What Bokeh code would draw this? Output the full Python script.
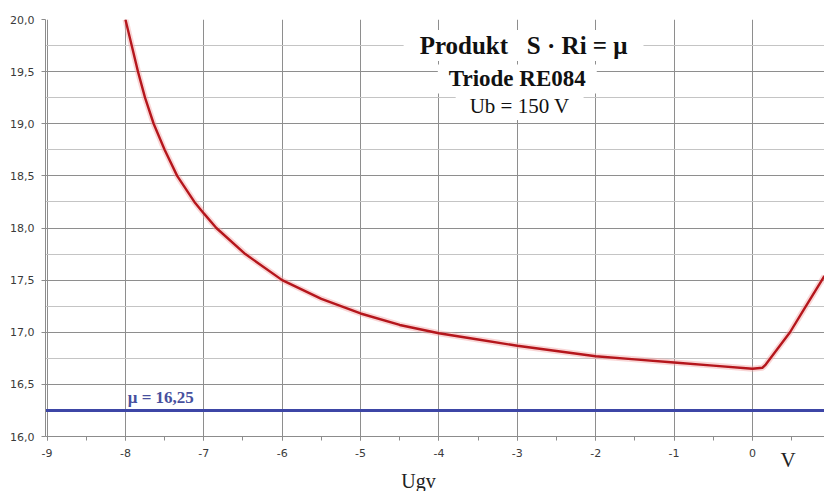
from bokeh.plotting import figure
from bokeh.models import SingleIntervalTicker, CustomJSTickFormatter, Label, Range1d, Title
from bokeh.embed import file_html
from bokeh.resources import INLINE

# data
ugv = [-8.0, -7.92, -7.84, -7.75, -7.64, -7.50, -7.34, -7.12, -7.0, -6.84, -6.47, -6.0,
       -5.5, -5.0, -4.5, -4.0, -3.5, -3.0, -2.5, -2.0, -1.5, -1.0, -0.5, 0.0, 0.13,
       0.17, 0.23, 0.48, 0.65, 0.92]
product = [20.0, 19.75, 19.5, 19.25, 19.0, 18.75, 18.5, 18.25, 18.14, 18.0, 17.75, 17.5,
           17.32, 17.18, 17.07, 16.99, 16.93, 16.87, 16.82, 16.77, 16.74, 16.71, 16.68,
           16.65, 16.66, 16.69, 16.75, 17.0, 17.21, 17.54]
mu_value = 16.25
mu_x = [-9.02, 0.92]
title_lines = ["Produkt\u00a0\u00a0\u00a0S \u00b7 Ri = \u03bc", "Triode RE084", "Ub = 150 V"]
mu_text = "\u03bc = 16,25"
x_label = "Ugv"
unit_label = "V"

p = figure(width=824, height=491, output_backend="svg", toolbar_location=None,
           x_range=Range1d(-9.02, 0.92), y_range=Range1d(16.0, 20.0),
           min_border_left=45, min_border_right=0, min_border_top=19, min_border_bottom=55)
p.outline_line_color = None
p.background_fill_color = "white"
p.border_fill_color = "white"

# axes
p.xaxis.ticker = SingleIntervalTicker(interval=1, num_minor_ticks=2)
p.yaxis.ticker = SingleIntervalTicker(interval=0.5, num_minor_ticks=2)
p.yaxis.formatter = CustomJSTickFormatter(code="return tick.toFixed(1).replace('.', ',');")
p.xaxis.formatter = CustomJSTickFormatter(code="return tick.toFixed(0);")
for ax in (p.xaxis, p.yaxis):
    ax.axis_line_color = "#8c8c8c"
    ax.axis_line_width = 1
    ax.major_tick_line_color = "#8c8c8c"
    ax.major_tick_in = 0
    ax.major_tick_out = 4
    ax.major_label_text_font = "DejaVu Sans"
    ax.major_label_text_font_size = "11px"
    ax.major_label_text_color = "#3a3a3a"
p.xaxis.minor_tick_line_color = "#8c8c8c"
p.xaxis.minor_tick_in = 0
p.xaxis.minor_tick_out = 4
p.yaxis.minor_tick_line_color = None
p.xaxis.major_label_standoff = 8
p.yaxis.major_label_standoff = 7

p.xgrid.grid_line_color = "#8e8e8e"
p.ygrid.grid_line_color = "#8e8e8e"
p.ygrid.minor_grid_line_color = "#c4c4c4"
p.xgrid.minor_grid_line_color = None

# curve with slight glow
p.line(ugv, product, line_color="#f2a3a3", line_width=6, line_alpha=0.45, line_join="round")
p.line(ugv, product, line_color="#b5161c", line_width=2.4, line_join="round")

# mu line
p.line(mu_x, [mu_value, mu_value], line_color="#3d46a6", line_width=3)

serif = "Liberation Serif"
p.add_layout(Label(x=-7.97, y=16.37, text=mu_text, text_font=serif, text_font_style="bold",
                   text_font_size="17px", text_color="#47509e", text_baseline="middle"))

sizes = ["25px", "23px", "21px"]
styles = ["bold", "bold", "normal"]
xs = [-2.92, -3.0, -2.97]
ys = [19.75, 19.43, 19.17]
pads = [(16, 2), (11, 2), (14, 2)]
for t, s, st, xx, yy, pd in zip(title_lines, sizes, styles, xs, ys, pads):
    p.add_layout(Label(x=xx, y=yy, text=t, text_font=serif, text_font_style=st,
                       text_font_size=s, text_color="#111111", text_align="center",
                       text_baseline="middle", background_fill_color="white",
                       background_fill_alpha=1.0, padding=pd))

# unit "V" next to the tick labels, and the axis name below
p.add_layout(Title(text=unit_label, align="left", offset=735, vertical_align="top",
                   standoff=-24, text_font=serif, text_font_style="normal",
                   text_font_size="21px", text_color="#222222"), "below")
p.add_layout(Label(x=373, y=3, x_units="screen", y_units="screen", text=x_label,
                   text_font=serif, text_font_size="20px", text_color="#222222",
                   text_align="center", text_baseline="middle"), "below")

open("out.html", "w").write(file_html(p, INLINE))
